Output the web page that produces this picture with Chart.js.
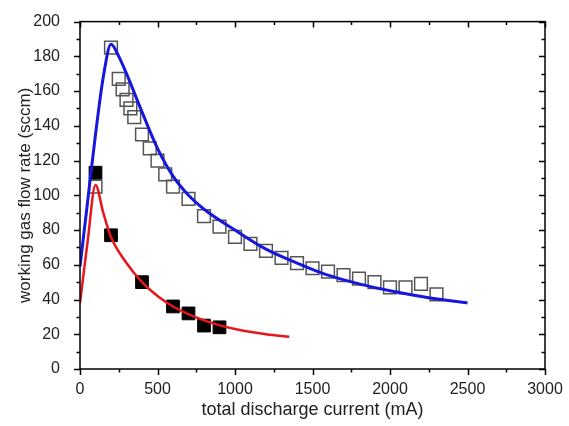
<!DOCTYPE html>
<html>
<head>
<meta charset="utf-8">
<script src="https://cdn.jsdelivr.net/npm/chart.js@4.4.0/dist/chart.umd.min.js"></script>
<style>
  html, body { margin: 0; padding: 0; background: #fff; }
  #wrap { width: 569px; height: 426px; }
</style>
</head>
<body>
<div id="wrap"><canvas id="chart" width="569" height="426"></canvas></div>
<script>
// open squares
const openX = [100, 200, 250, 275, 300, 325, 350, 400, 450, 500, 550, 600, 700, 800, 900, 1000, 1100, 1200, 1300, 1400, 1500, 1600, 1700, 1800, 1900, 2000, 2100, 2200, 2300];
const openY = [105, 185, 167, 161, 155, 150, 145, 135, 127, 120, 112, 105, 98, 88, 82, 76, 72, 68, 64, 61, 58, 56, 54, 52, 50, 47, 47, 49, 43];

// filled squares
const filledX = [100, 200, 400, 600, 700, 800, 900];
const filledY = [113, 77, 50, 36, 32, 25, 24];

// blue fit curve
const blueX = [0, 50, 100, 150, 200, 250, 300, 400, 500, 600, 700, 800, 1000, 1200, 1400, 1600, 1800, 2000, 2250, 2500];
const blueY = [59, 97, 135, 168, 187, 180, 170, 148, 127, 111, 100, 92, 80, 69, 61, 54, 49, 45, 41, 38];

// red fit curve
const redX = [0, 50, 100, 150, 200, 300, 400, 500, 600, 800, 1000, 1200, 1350];
const redY = [38, 74, 106, 90, 76, 61, 50, 42, 36, 28, 23, 20, 18.5];

const xTicks = [0, 500, 1000, 1500, 2000, 2500, 3000];
const yTicks = [0, 20, 40, 60, 80, 100, 120, 140, 160, 180, 200];

const pts = (xs, ys) => xs.map((x, i) => ({ x: x, y: ys[i] }));

// frame + Origin-style ticks (outward on left/bottom, inward on top/right)
const frameTicks = {
  id: "frameTicks",
  afterDraw(chart) {
    const { ctx, chartArea: a, scales } = chart;
    const xs = scales.x, ys = scales.y;
    ctx.save();
    ctx.strokeStyle = "#000";
    ctx.lineWidth = 1.5;
    ctx.strokeRect(a.left, a.top, a.right - a.left, a.bottom - a.top);
    ctx.beginPath();
    for (let v = 0; v <= 3000; v += 250) {
      const px = Math.round(xs.getPixelForValue(v)) + 0.5;
      const len = v % 500 === 0 ? 6 : 3.5;
      ctx.moveTo(px, a.bottom); ctx.lineTo(px, a.bottom + len);
      ctx.moveTo(px, a.top); ctx.lineTo(px, a.top + len);
    }
    for (let v = 0; v <= 200; v += 10) {
      const py = Math.round(ys.getPixelForValue(v)) + 0.5;
      const len = v % 20 === 0 ? 6 : 3.5;
      ctx.moveTo(a.left, py); ctx.lineTo(a.left - len, py);
      ctx.moveTo(a.right, py); ctx.lineTo(a.right - len, py);
    }
    ctx.stroke();
    ctx.restore();
  }
};

const fam = "'Liberation Sans', Arial, sans-serif";
const tickFont = { family: fam, size: 16 };

new Chart(document.getElementById("chart").getContext("2d"), {
  type: "scatter",
  data: {
    datasets: [
      {
        data: pts(blueX, blueY),
        showLine: true,
        borderColor: "#1616dc",
        borderWidth: 3,
        pointRadius: 0,
        cubicInterpolationMode: "monotone",
        order: 0
      },
      {
        data: pts(redX, redY),
        showLine: true,
        borderColor: "#e8151b",
        borderWidth: 2.5,
        pointRadius: 0,
        cubicInterpolationMode: "monotone",
        order: 1
      },
      {
        data: pts(filledX, filledY),
        pointStyle: "rect",
        pointRadius: 9,
        backgroundColor: "#000",
        borderColor: "#000",
        borderWidth: 1,
        order: 2
      },
      {
        data: pts(openX, openY),
        pointStyle: "rect",
        pointRadius: 9,
        backgroundColor: "rgba(255,255,255,0)",
        borderColor: "#555",
        borderWidth: 1.5,
        order: 3
      }
    ]
  },
  options: {
    responsive: false,
    animation: false,
    layout: { padding: { top: 21, right: 24, left: 0, bottom: 0 } },
    plugins: {
      legend: { display: false },
      tooltip: { enabled: false }
    },
    scales: {
      x: {
        type: "linear",
        min: 0, max: 3000,
        afterBuildTicks: s => { s.ticks = xTicks.map(v => ({ value: v })); },
        afterFit: s => { s.height = 57; },
        grid: { display: false },
        border: { display: false },
        ticks: { color: "#222", font: tickFont, padding: 3, maxRotation: 0, callback: v => String(v) },
        title: {
          display: true,
          text: "total discharge current (mA)",
          color: "#222",
          font: { family: fam, size: 18 },
          padding: { top: 0, bottom: 5 }
        }
      },
      y: {
        type: "linear",
        min: 0, max: 200,
        afterBuildTicks: s => { s.ticks = yTicks.map(v => ({ value: v })); },
        afterFit: s => { s.width = 80; },
        grid: { display: false },
        border: { display: false },
        ticks: { color: "#222", font: tickFont, padding: 12, callback: v => String(v) },
        title: {
          display: true,
          text: "working gas flow rate (sccm)",
          color: "#222",
          font: { family: fam, size: 17 },
          padding: { top: 15, bottom: 0 }
        }
      }
    }
  },
  plugins: [frameTicks]
});
</script>
</body>
</html>
